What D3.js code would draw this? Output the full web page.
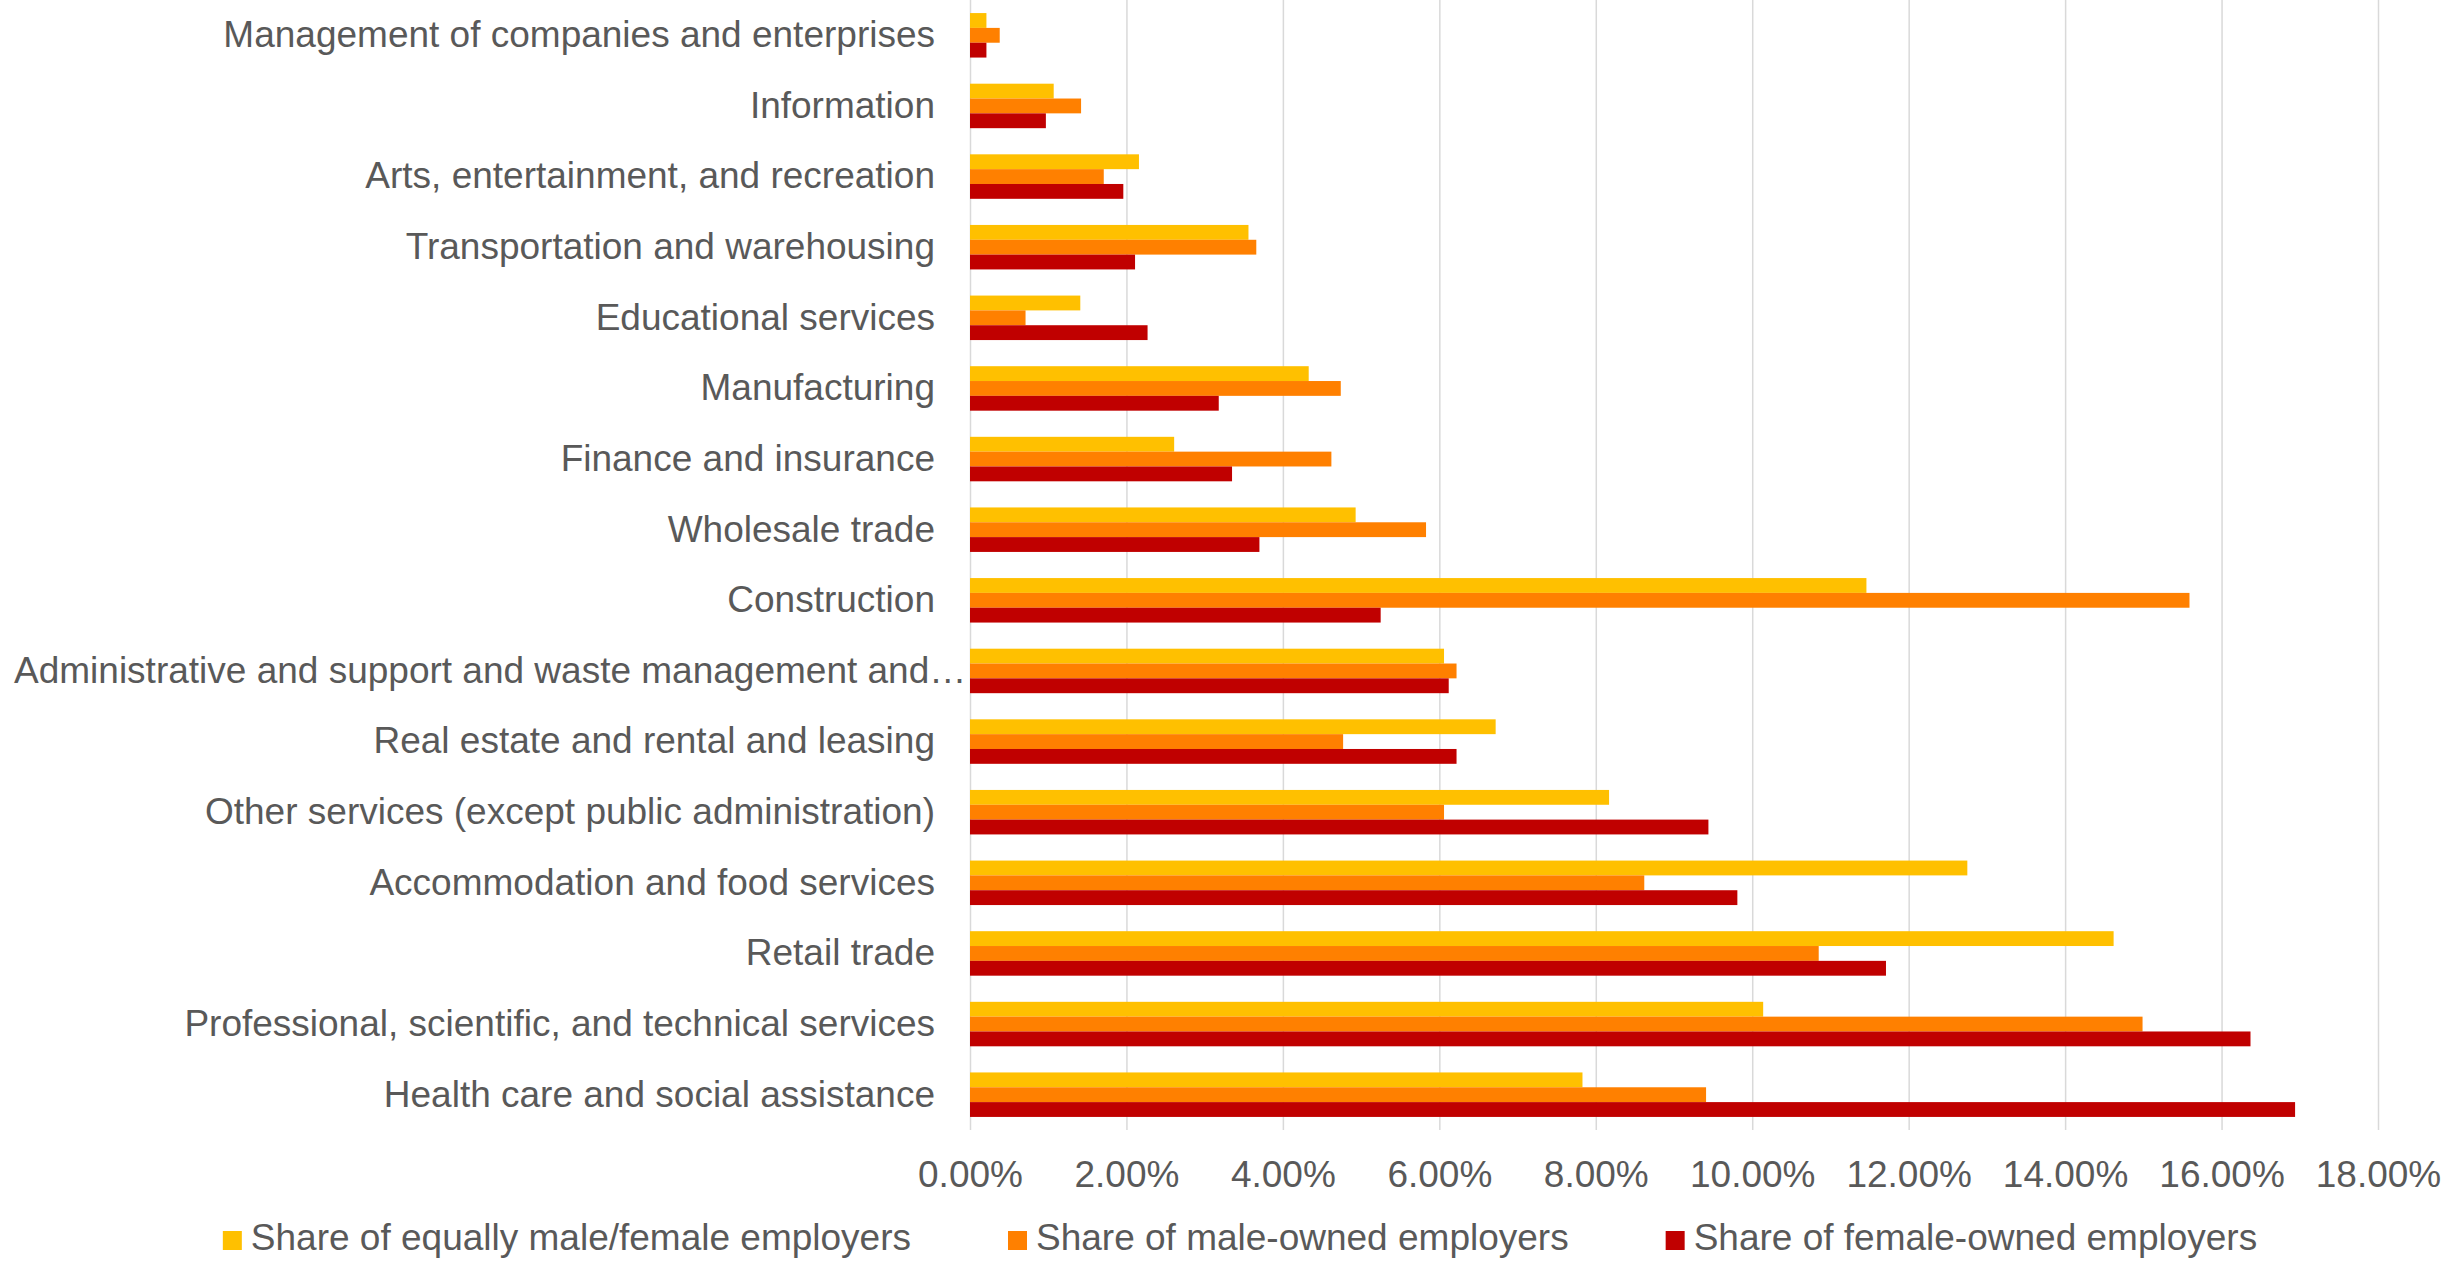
<!DOCTYPE html>
<html lang="en">
<head>
    <meta charset="UTF-8">
    <title>Employer share by industry and owner sex</title>
    <script src="https://cdn.jsdelivr.net/npm/d3@7/dist/d3.min.js"></script>
    <style>
        body { margin: 0; background: #fff; }
        text { font-family: "Liberation Sans", Arial, sans-serif; fill: #595959; }
    </style>
</head>
<body>
    <div id="chart"></div>
    <script>
        // categories, top to bottom
        const categories = [
            "Management of companies and enterprises",
            "Information",
            "Arts, entertainment, and recreation",
            "Transportation and warehousing",
            "Educational services",
            "Manufacturing",
            "Finance and insurance",
            "Wholesale trade",
            "Construction",
            "Administrative and support and waste management and\u2026",
            "Real estate and rental and leasing",
            "Other services (except public administration)",
            "Accommodation and food services",
            "Retail trade",
            "Professional, scientific, and technical services",
            "Health care and social assistance"
        ];

        // values in percent
        const equallyOwned = [0.21, 1.07, 2.16, 3.56, 1.41, 4.33, 2.61, 4.93, 11.46, 6.06, 6.72, 8.17, 12.75, 14.62, 10.14, 7.83];
        const maleOwned    = [0.38, 1.42, 1.71, 3.66, 0.71, 4.74, 4.62, 5.83, 15.59, 6.22, 4.77, 6.06, 8.62, 10.85, 14.99, 9.41];
        const femaleOwned  = [0.21, 0.97, 1.96, 2.11, 2.27, 3.18, 3.35, 3.70, 5.25, 6.12, 6.22, 9.44, 9.81, 11.71, 16.37, 16.94];

        const seriesNames = [
            "Share of equally male/female employers",
            "Share of male-owned employers",
            "Share of female-owned employers"
        ];
        const seriesColors = ["#FFC000", "#FF8000", "#C00000"];
        const tickValues = [0, 2, 4, 6, 8, 10, 12, 14, 16, 18];

        const seriesValues = [equallyOwned, maleOwned, femaleOwned];

        const W = 2453, H = 1261;
        const margin = { top: 0, left: 970 },
            plotW = 2378 - 970,
            plotH = 1130;

        const svg = d3.select("#chart")
            .append("svg")
            .attr("width", W)
            .attr("height", H);

        const g = svg.append("g")
            .attr("transform", "translate(" + margin.left + "," + margin.top + ")");

        const x = d3.scaleLinear().domain([0, 18]).range([0, plotW]);
        const y = d3.scaleBand().domain(categories).range([0, plotH])
            .paddingInner(0.37).paddingOuter(0.185);
        const ySub = d3.scaleBand().domain(d3.range(seriesNames.length)).range([0, y.bandwidth()]);

        // gridlines + x labels
        const xAxis = g.append("g")
            .attr("transform", "translate(0," + plotH + ")")
            .call(d3.axisBottom(x)
                .tickValues(tickValues)
                .tickSize(-plotH)
                .tickPadding(31)
                .tickFormat(d => d.toFixed(2) + "%"));
        xAxis.select(".domain").remove();
        xAxis.selectAll("line").attr("stroke", "#d9d9d9").attr("stroke-width", 1.5);
        xAxis.selectAll("text")
            .attr("fill", "#595959")
            .style("font-size", "37px");

        // bars
        categories.forEach((cat, i) => {
            const grp = g.append("g").attr("transform", "translate(0," + y(cat) + ")");
            seriesValues.forEach((vals, s) => {
                grp.append("rect")
                    .attr("x", x(0))
                    .attr("y", ySub(s))
                    .attr("width", x(vals[i]) - x(0))
                    .attr("height", ySub.bandwidth())
                    .attr("fill", seriesColors[s]);
            });
        });

        // category labels
        const yAxis = g.append("g")
            .call(d3.axisLeft(y).tickSize(0).tickPadding(35));
        yAxis.select(".domain").remove();
        yAxis.selectAll("text")
            .attr("fill", "#595959")
            .style("font-size", "37px")
            .each(function () {
                // long label is cut by the chart edge; pin it to the left
                if (this.getComputedTextLength() > margin.left - 49) {
                    d3.select(this).attr("text-anchor", "start").attr("x", 14 - margin.left);
                }
            });

        // legend
        const legend = svg.append("g");
        const items = legend.selectAll("g")
            .data(seriesNames)
            .enter().append("g");
        items.append("rect")
            .attr("width", 19)
            .attr("height", 19)
            .attr("y", 1231)
            .attr("fill", (d, i) => seriesColors[i]);
        items.append("text")
            .attr("x", 28)
            .attr("y", 1250)
            .style("font-size", "37px")
            .text(d => d);

        const widths = [];
        items.selectAll("text").each(function () { widths.push(this.getComputedTextLength()); });
        const gap = 97;
        const total = d3.sum(widths) + 28 * widths.length + gap * (widths.length - 1);
        let lx = 1240 - total / 2;
        items.each(function (d, i) {
            d3.select(this).attr("transform", "translate(" + lx + ",0)");
            lx += 28 + widths[i] + gap;
        });
    </script>
</body>
</html>
